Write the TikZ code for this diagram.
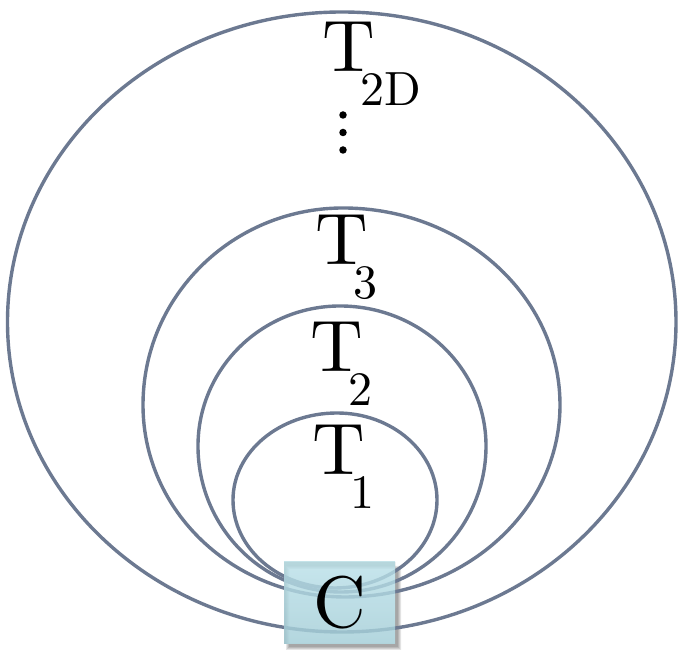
\documentclass[tikz,border=0pt]{standalone}
\definecolor{edgecol}{RGB}{108,121,145}
\definecolor{boxtop}{RGB}{186,224,232}
\definecolor{boxbot}{RGB}{163,205,215}
\newcommand\Tlab[1]{\scalebox{7.3}{T}\kern-15pt\raisebox{-33.5pt}{\scalebox{4.8}{#1}}}
\begin{document}
\begin{tikzpicture}[x=1pt,y=1pt,
  loopline/.style={draw=edgecol, line width=3.4pt},
  lab/.style={anchor=base west, inner sep=0pt, font=\fontsize{10}{12}\selectfont},
  dotmark/.style={circle, fill=black, inner sep=0pt, minimum size=7.5pt},
  cbox/.style={minimum width=111pt, minimum height=82pt, inner sep=0pt,
    top color=boxtop, bottom color=boxbot, fill opacity=0.82, text opacity=1,
    font=\fontsize{10}{12}\selectfont}]
\useasboundingbox (0,0) rectangle (678,652);
% shadow of the C box
\foreach \k in {0,1,2,3}{
  \fill[black, opacity=0.1, even odd rule]
    (286+\k,2+\k) rectangle (401-\k,86-\k)
    (284,8) rectangle (395,90);
}
% outer loop T_2D
\draw[loopline] (342,20)
  arc[start angle=270,end angle=180,x radius=334.5,y radius=310]
  arc[start angle=180,end angle=90,x radius=334.5,y radius=310]
  arc[start angle=90,end angle=0,x radius=334,y radius=310]
  arc[start angle=0,end angle=-90,x radius=334,y radius=310] -- cycle;
% T_3
\draw[loopline] (345,55)
  arc[start angle=270,end angle=180,x radius=202,y radius=192]
  arc[start angle=180,end angle=90,x radius=200,y radius=197]
  arc[start angle=90,end angle=0,x radius=217,y radius=197]
  arc[start angle=0,end angle=-90,x radius=215,y radius=192] -- cycle;
% T_2
\draw[loopline] (341,60)
  arc[start angle=270,end angle=180,x radius=143,y radius=146]
  arc[start angle=180,end angle=90,x radius=142,y radius=140]
  arc[start angle=90,end angle=0,x radius=146,y radius=140]
  arc[start angle=0,end angle=-90,x radius=145,y radius=146] -- cycle;
% T_1
\draw[loopline] (335,64)
  arc[start angle=270,end angle=180,x radius=102,y radius=88]
  arc[start angle=180,end angle=90,x radius=104,y radius=87]
  arc[start angle=90,end angle=0,x radius=100,y radius=87]
  arc[start angle=0,end angle=-90,x radius=102,y radius=88] -- cycle;
% box C
\node[cbox] (C) at (339.5,49) {\raisebox{-2pt}{\scalebox{7.3}{C}}};
% labels
\node[lab] (t1) at (312.5,177) {\Tlab{1}};
\node[lab] (t2) at (310.5,280) {\Tlab{2}};
\node[lab] (t3) at (315.5,387) {\Tlab{3}};
\node[lab] (t2d) at (322.5,580) {\Tlab{2D}};
% vertical dots
\node[dotmark] (d1) at (343,537) {};
\node[dotmark] (d2) at (343,519.5) {};
\node[dotmark] (d3) at (343,502) {};
\end{tikzpicture}
\end{document}
